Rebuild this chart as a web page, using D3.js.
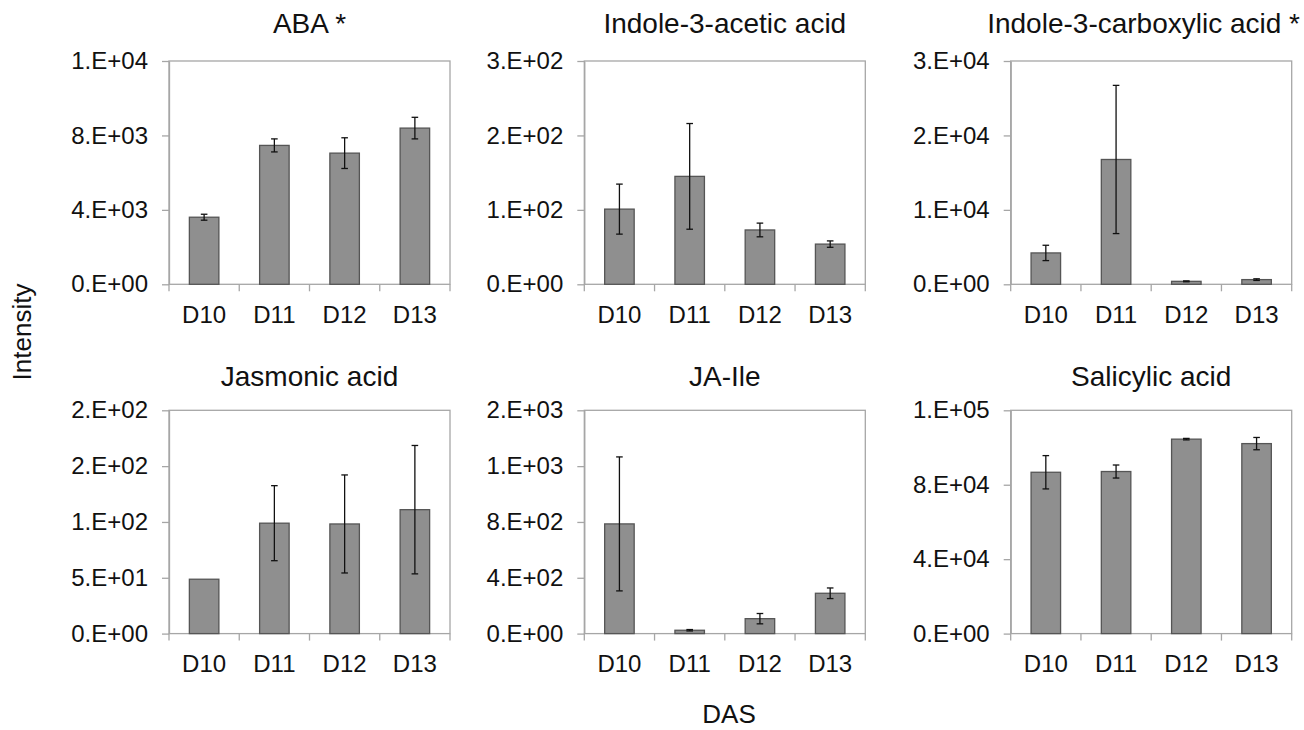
<!DOCTYPE html>
<html>
<head>
<meta charset="utf-8">
<script src="https://cdn.jsdelivr.net/npm/d3@7"></script>
<style>
  body { margin: 0; background: #fff; }
  text { font-family: "Liberation Sans", Arial, sans-serif; fill: #111; }
</style>
</head>
<body>
<svg id="chart"></svg>
<script>
const width = 1304
const height = 730

const days = ['D10', 'D11', 'D12', 'D13']
const titles = ['ABA *', 'Indole-3-acetic acid', 'Indole-3-carboxylic acid *',
  'Jasmonic acid', 'JA-Ile', 'Salicylic acid']
const yMax = [12000, 300, 30000, 200, 1600, 120000]
const yStep = [4000, 100, 10000, 50, 400, 40000]
const means = [
  [3605, 7464, 7049, 8394],
  [101, 145, 73, 54],
  [4215, 16770, 400, 630],
  [48.7, 98.9, 98.2, 111],
  [786, 24, 107, 289],
  [86700, 87100, 104500, 102100]
]
const errs = [
  [160, 350, 825, 580],
  [33.6, 71, 9.2, 4.3],
  [1030, 9955, 60, 110],
  [0, 33.6, 43.9, 57.5],
  [480, 5, 37, 38],
  [8950, 3500, 400, 3300]
]

const colLeft = [169, 584.3, 1010.7]
const rowTop = [61, 410.3]
const plotW = 281
const plotH = 223.3
const axisColor = '#a6a6a6'

// excel style 0.E+00
function sciFormat(v) {
  if (v === 0) return '0.E+00'
  let e = Math.floor(Math.log10(v))
  let m = Math.round(v / Math.pow(10, e))
  if (m === 10) { m = 1; e++ }
  return m + '.E+' + String(e).padStart(2, '0')
}

const svg = d3.select('#chart').attr('width', width).attr('height', height)

titles.forEach((title, i) => {
  const px = colLeft[i % 3]
  const py = rowTop[Math.floor(i / 3)]
  const g = svg.append('g').attr('transform', `translate(${px},${py})`)

  const x = d3.scaleBand().domain(days).range([0, plotW]).paddingInner(0.58).paddingOuter(0.29)
  const y = d3.scaleLinear().domain([0, yMax[i]]).range([plotH, 0])

  const rows = days.map((d, j) => ({day: d, v: means[i][j], e: errs[i][j]}))

  // frame
  g.append('rect')
    .attr('width', plotW).attr('height', plotH)
    .attr('fill', 'none').attr('stroke', axisColor).attr('stroke-width', 1.3)

  // y axis
  const yAxis = d3.axisLeft(y)
    .tickValues(d3.range(0, yMax[i] + yStep[i] / 2, yStep[i]))
    .tickSize(7).tickSizeOuter(0).tickPadding(14)
    .tickFormat(sciFormat)
  const ya = g.append('g').call(yAxis)
  ya.selectAll('path, line').attr('stroke', axisColor).attr('stroke-width', 1.3)
  ya.selectAll('text').style('font-size', '24px').attr('fill', '#111')

  // x axis boundary ticks
  g.selectAll('.xtick').data(d3.range(days.length + 1)).enter().append('line')
    .attr('x1', d => d * x.step()).attr('x2', d => d * x.step())
    .attr('y1', plotH).attr('y2', plotH + 7)
    .attr('stroke', axisColor).attr('stroke-width', 1.3)

  g.selectAll('.xlabel').data(days).enter().append('text')
    .attr('x', d => x(d) + x.bandwidth() / 2)
    .attr('y', plotH + 38.5)
    .attr('text-anchor', 'middle')
    .style('font-size', '24px')
    .text(d => d)

  // bars
  g.selectAll('.bar').data(rows).enter().append('rect')
    .attr('x', d => x(d.day))
    .attr('y', d => y(d.v))
    .attr('width', x.bandwidth())
    .attr('height', d => plotH - y(d.v))
    .attr('fill', '#8f8f8f')
    .attr('stroke', '#555')
    .attr('stroke-width', 1.3)

  // error bars
  const eb = g.selectAll('.err').data(rows.filter(d => d.e > 0)).enter().append('g')
    .attr('transform', d => `translate(${x(d.day) + x.bandwidth() / 2},0)`)
  eb.append('line')
    .attr('y1', d => y(d.v + d.e))
    .attr('y2', d => y(d.v - d.e))
    .attr('stroke', '#111').attr('stroke-width', 1.3)
  eb.append('line')
    .attr('x1', -3.3).attr('x2', 3.3)
    .attr('y1', d => y(d.v + d.e)).attr('y2', d => y(d.v + d.e))
    .attr('stroke', '#111').attr('stroke-width', 1.3)
  eb.append('line')
    .attr('x1', -3.3).attr('x2', 3.3)
    .attr('y1', d => y(d.v - d.e)).attr('y2', d => y(d.v - d.e))
    .attr('stroke', '#111').attr('stroke-width', 1.3)

  // title, kept inside the page on the right
  const t = g.append('text')
    .attr('x', plotW / 2)
    .attr('y', i < 3 ? -27.7 : -24.5)
    .attr('text-anchor', 'middle')
    .style('font-size', '28px')
    .text(title)
  const tw = t.node().getComputedTextLength()
  const overflow = px + plotW / 2 + tw / 2 - (width - 4)
  if (overflow > 0) t.attr('x', plotW / 2 - overflow)
})

svg.append('text')
  .attr('transform', 'translate(31,332) rotate(-90)')
  .attr('text-anchor', 'middle')
  .style('font-size', '26px')
  .text('Intensity')

svg.append('text')
  .attr('x', 729).attr('y', 723)
  .attr('text-anchor', 'middle')
  .style('font-size', '26px')
  .text('DAS')
</script>
</body>
</html>
